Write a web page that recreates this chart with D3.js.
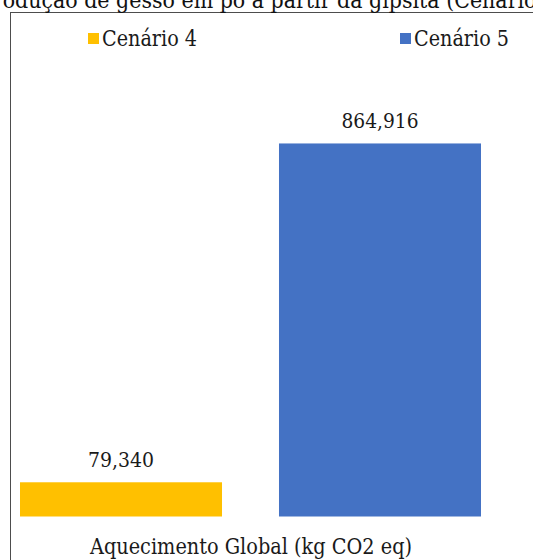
<!DOCTYPE html>
<html>
<head>
<meta charset="utf-8">
<title>Aquecimento Global</title>
<script src="https://d3js.org/d3.v7.min.js"></script>
<style>
  body { margin: 0; background: #fff; }
</style>
</head>
<body>
<script type="text/javascript">
	var width  = 533;
	var height = 560;
	// only serif face that is really there; squeezed with textLength to look like Times
	var font   = "DejaVu Serif";

	var title      = "Produção de gesso em pó a partir da gipsita (Cenários 4 e 5)";
	var category   = "Aquecimento Global (kg CO2 eq)";
	var series     = ["Cenário 4", "Cenário 5"];
	var values     = [79.340, 864.916];
	var labels     = ["79,340", "864,916"];
	var colours    = ["#FFC000", "#4472C4"];

	var svg = d3.select("body").append("svg")
		.attr("width", width)
		.attr("height", height)
		.style("font-family", font);

	// chart frame, runs off the right and bottom of the picture
	svg.append("rect")
		.attr("x", 10.5).attr("y", 12.5)
		.attr("width", 600).attr("height", 600)
		.attr("fill", "none").attr("stroke", "#4d4d4d").attr("stroke-width", 1);

	// title is cut off at the top of the picture, as in the original
	svg.append("text")
		.attr("x", -21).attr("y", 8)
		.attr("fill", "#111")
		.attr("textLength", 634).attr("lengthAdjust", "spacingAndGlyphs")
		.style("font-size", "23px")
		.text(title);

	var xScale = d3.scaleBand().domain(series).range([20, 481]).paddingInner(0.22).paddingOuter(0);
	var yScale = d3.scaleLinear().domain([0, 1000]).range([516.5, 85.2]);
	var colourScale = d3.scaleOrdinal().domain(series).range(colours);

	var data = series.map((s, i) => ({ name: s, value: values[i], label: labels[i] }));

	svg.selectAll("rect.bar").data(data).enter().append("rect")
		.attr("class", "bar")
		.attr("x", d => xScale(d.name))
		.attr("y", d => yScale(d.value))
		.attr("width", xScale.bandwidth())
		.attr("height", d => yScale(0) - yScale(d.value))
		.attr("fill", d => colourScale(d.name));

	svg.selectAll("text.val").data(data).enter().append("text")
		.attr("class", "val")
		.attr("x", d => xScale(d.name) + xScale.bandwidth() / 2)
		.attr("y", d => yScale(d.value) - 15)
		.attr("text-anchor", "middle")
		.attr("fill", "#1a1a1a")
		.attr("textLength", d => d.label.length * 11).attr("lengthAdjust", "spacingAndGlyphs")
		.style("font-size", "21px")
		.text(d => d.label);

	// category label under the bars
	svg.append("text")
		.attr("x", 251).attr("y", 554)
		.attr("text-anchor", "middle")
		.attr("fill", "#1a1a1a")
		.attr("textLength", 322).attr("lengthAdjust", "spacingAndGlyphs")
		.style("font-size", "22px")
		.text(category);

	// legend
	var legendX = [88, 400];
	var legend = svg.selectAll("g.legend").data(series).enter().append("g")
		.attr("class", "legend")
		.attr("transform", (d, i) => "translate(" + legendX[i] + ",0)");
	legend.append("rect")
		.attr("x", 0).attr("y", 33)
		.attr("width", 11).attr("height", 11)
		.attr("fill", d => colourScale(d));
	legend.append("text")
		.attr("x", 14).attr("y", 46)
		.attr("fill", "#1a1a1a")
		.attr("textLength", 95).attr("lengthAdjust", "spacingAndGlyphs")
		.style("font-size", "22px")
		.text(d => d);
</script>
</body>
</html>
